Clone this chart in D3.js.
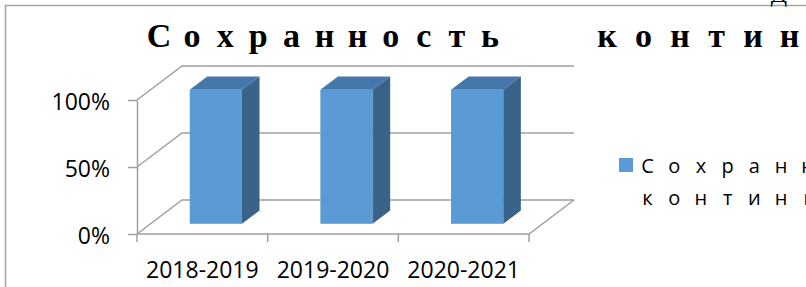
<!DOCTYPE html>
<html>
<head>
<meta charset="utf-8">
<script src="https://cdn.jsdelivr.net/npm/d3@7"></script>
<style>
  body { margin: 0; background: #fff; }
  svg { display: block; }
</style>
</head>
<body>
<figure id="chart" style="margin:0"></figure>
<script>
// data
const categories = ["2018-2019", "2019-2020", "2020-2021"];
const values = [1, 1, 1];
const yTicks = [0, 0.5, 1];
const seriesName = "Сохранность контингента";
const titleWords = ["Сохранность", "континг"];

const width = 806, height = 287;

const svg = d3.select("figure#chart")
  .append("svg")
  .attr("width", width)
  .attr("height", height);

// outer frame (only top and left show)
svg.append("path")
  .attr("d", "M5.5,287 V5.5 H806")
  .attr("fill", "none")
  .attr("stroke", "#a6a6a6")
  .attr("stroke-width", 1.6);

// bit of text from the page above, cut by the frame
svg.append("text")
  .attr("x", 779).attr("y", 2)
  .attr("text-anchor", "middle")
  .style("font-family", "Liberation Serif")
  .style("font-size", "24px")
  .text("Д");

// title, spaced letter by letter
const titleStart = [159, 607], titlePitch = [33.1, 36.5];
titleWords.forEach((w, wi) => {
  svg.append("g")
    .selectAll("text")
    .data(Array.from(w))
    .join("text")
    .attr("x", (d, i) => titleStart[wi] + i * titlePitch[wi])
    .attr("y", 47)
    .attr("text-anchor", "middle")
    .style("font-family", "Liberation Serif")
    .style("font-weight", "bold")
    .style("font-size", "34px")
    .text(d => d);
});

// plot geometry: front plane + depth vector
const x0 = 137, x1 = 529;
const depth = {x: 45, y: -34};
const x = d3.scaleBand().domain(categories).range([x0, x1]);
const y = d3.scaleLinear().domain([0, 1]).range([234, 100]);

const grid = svg.append("g")
  .attr("fill", "none")
  .attr("stroke", "#a0a0a0")
  .attr("stroke-width", 1.5);

// side wall diagonals + back wall gridlines
yTicks.forEach(t => {
  grid.append("path")
    .attr("d", `M${x0},${y(t)} L${x0 + depth.x},${y(t) + depth.y} H${x1 + depth.x}`);
});
// floor front and right edges
grid.append("path")
  .attr("d", `M${x0},${y(0)} H${x1} L${x1 + depth.x},${y(0) + depth.y}`);

// y axis
const yAxis = svg.append("g")
  .attr("transform", `translate(${x0},0)`)
  .call(d3.axisLeft(y).tickValues(yTicks).tickFormat(d3.format(".0%"))
    .tickSize(9).tickSizeOuter(0).tickPadding(18));
yAxis.selectAll("path, line").attr("stroke", "#a0a0a0").attr("stroke-width", 1.5);
yAxis.selectAll("text")
  .attr("dy", "0.42em")
  .style("font-family", "Open Sans")
  .style("font-size", "23px")
  .attr("fill", "#000");

// x axis: labels centred, ticks on band edges
const xAxis = svg.append("g")
  .attr("transform", `translate(0,${y(0)})`)
  .call(d3.axisBottom(x).tickSize(0).tickPadding(28));
xAxis.select(".domain").remove();
xAxis.selectAll("text")
  .style("font-family", "Open Sans")
  .style("font-size", "23px")
  .attr("fill", "#000");
svg.append("g")
  .selectAll("line")
  .data(categories.map(c => x(c)).concat([x1]))
  .join("line")
  .attr("x1", d => d).attr("x2", d => d)
  .attr("y1", y(0)).attr("y2", y(0) + 8)
  .attr("stroke", "#a0a0a0")
  .attr("stroke-width", 1.5);

// 3d bars
const f0 = 0.3, f1 = 0.69;
const ox = f0 * depth.x, oy = f0 * depth.y;
const dx = (f1 - f0) * depth.x, dy = (f1 - f0) * depth.y;
const bw = x.bandwidth();

const bars = svg.append("g")
  .selectAll("g")
  .data(categories.map((c, i) => ({c, v: values[i]})))
  .join("g");

bars.each(function(d) {
  const g = d3.select(this);
  const xl = x(d.c) + bw * 0.3 + ox, xr = xl + bw * 0.4;
  const yt = y(d.v) + oy, yb = y(0) + oy;
  g.append("rect")
    .attr("x", xl).attr("y", yt)
    .attr("width", xr - xl).attr("height", yb - yt)
    .attr("fill", "#5b9bd5");
  g.append("path")
    .attr("d", `M${xl},${yt} L${xl + dx},${yt + dy} H${xr + dx} L${xr},${yt} Z`)
    .attr("fill", "#4677ab");
  g.append("path")
    .attr("d", `M${xr},${yt} L${xr + dx},${yt + dy} V${yb + dy} L${xr},${yb} Z`)
    .attr("fill", "#3a6389");
});

// legend
const legend = svg.append("g");
legend.append("rect")
  .attr("x", 619).attr("y", 158)
  .attr("width", 14).attr("height", 14)
  .attr("fill", "#5b9bd5");
const words = seriesName.split(" ");
words.forEach((w, li) => {
  legend.append("g")
    .selectAll("text")
    .data(Array.from(w))
    .join("text")
    .attr("x", (d, i) => 647.5 + i * 26.7)
    .attr("y", 173 + li * 32)
    .attr("text-anchor", "middle")
    .style("font-family", "Open Sans")
    .style("font-size", "20px")
    .text(d => d);
});
</script>
</body>
</html>
